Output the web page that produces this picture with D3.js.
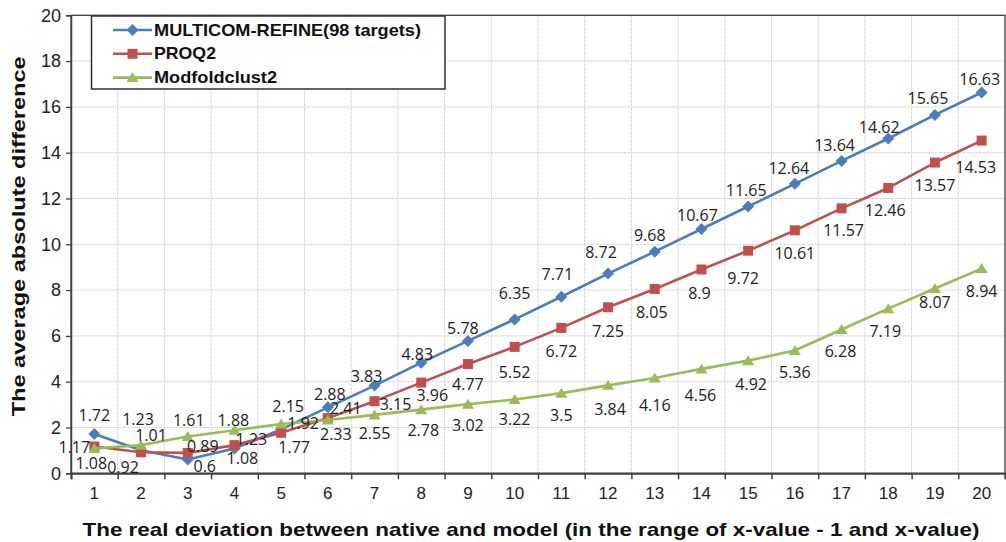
<!DOCTYPE html>
<html>
<head>
<meta charset="utf-8">
<script src="https://cdn.jsdelivr.net/npm/d3@7"></script>
<style>
  html, body { margin: 0; padding: 0; background: #fff; }
  svg { display: block; }
</style>
</head>
<body>
<svg id="chart" width="1006" height="542"></svg>
<script>
// ---- data ----
const categories = [1,2,3,4,5,6,7,8,9,10,11,12,13,14,15,16,17,18,19,20];
const seriesNames = ["MULTICOM-REFINE(98 targets)", "PROQ2", "Modfoldclust2"];
const multicom = [1.72,1.01,0.6,1.08,1.92,2.88,3.83,4.83,5.78,6.72,7.71,8.72,9.68,10.67,11.65,12.64,13.64,14.62,15.65,16.63];
const proq2    = [1.17,0.92,0.89,1.23,1.77,2.41,3.15,3.96,4.77,5.52,6.35,7.25,8.05,8.9,9.72,10.61,11.57,12.46,13.57,14.53];
const modfold  = [1.08,1.23,1.61,1.88,2.15,2.33,2.55,2.78,3.02,3.22,3.5,3.84,4.16,4.56,4.92,5.36,6.28,7.19,8.07,8.94];
// data label texts as printed in the chart
const multicomLabels = ["1.72","1.01","0.6","1.08","1.92","2.88","3.83","4.83","5.78","6.35","7.71","8.72","9.68","10.67","11.65","12.64","13.64","14.62","15.65","16.63"];
const proq2Labels    = ["1.17","0.92","0.89","1.23","1.77","2.41","3.15","3.96","4.77","5.52","6.72","7.25","8.05","8.9","9.72","10.61","11.57","12.46","13.57","14.53"];
const modfoldLabels  = ["1.08","1.23","1.61","1.88","2.15","2.33","2.55","2.78","3.02","3.22","3.5","3.84","4.16","4.56","4.92","5.36","6.28","7.19","8.07","8.94"];
const yTicks = [0,2,4,6,8,10,12,14,16,18,20];
const xTitle = "The real deviation between native and model (in the range of x-value - 1 and x-value)";
const yTitle = "The  average absolute difference";

// ---- layout / style ----
const colors = ["#4A7EBB", "#C0504D", "#9BBB59"];
const markers = ["diamond", "square", "triangle"];
// label offsets (px) relative to marker, per series
const labelOffsets = [
  [[0,-19],[10,-15],[17,6],[8,9],[22,-6],[2,-13],[-8,-10],[-4,-9],[-5,-13],[0,-26],[-4,-23],[-7,-22],[-5,-17],[-4,-14],[-2,-17],[-6,-16],[-7,-16],[-9,-12],[-7,-17],[-2,-13]],
  [[-20,0],[-18,15],[15,-7],[17,-6],[13,14],[18,-10],[21,3],[11,12],[0,20],[0,25],[0,23],[0,24],[-3,23],[-2,24],[-5,27],[0,23],[2,22],[-3,22],[0,22],[-6,26]],
  [[-3,14],[-3,-26],[1,-16],[-1,-10],[7,-18],[8,14],[0,18],[2,20],[0,21],[0,19],[0,22],[2,24],[0,27],[-1,26],[3,23],[0,21],[-1,22],[-3,22],[0,14],[0,22]]
];
const legendTextLengths = [267, 62, 123];

const series = [
  {name: seriesNames[0], values: multicom, labels: multicomLabels},
  {name: seriesNames[1], values: proq2, labels: proq2Labels},
  {name: seriesNames[2], values: modfold, labels: modfoldLabels}
];

const svg = d3.select("#chart");
const L = 71, R = 1005, T = 15.3, B = 473.3;

const x = d3.scaleBand().domain(categories).range([L, R]).padding(0);
const xb = d3.scaleLinear().domain([0, categories.length]).range([L, R]);
const y = d3.scaleLinear().domain([0, 20]).range([B, T]);
const cx = c => x(c) + x.bandwidth() / 2;

// gridlines
const grid = svg.append("g");
grid.selectAll("line.h").data(yTicks.slice(1)).join("line")
  .attr("x1", L).attr("x2", R).attr("y1", d => y(d)).attr("y2", d => y(d))
  .attr("stroke", "#d4d4d4").attr("stroke-width", 1).attr("stroke-dasharray", "3,1");
grid.selectAll("line.v").data(d3.range(1, categories.length)).join("line")
  .attr("x1", d => xb(d)).attr("x2", d => xb(d)).attr("y1", T).attr("y2", B)
  .attr("stroke", "#d4d4d4").attr("stroke-width", 1).attr("stroke-dasharray", "3,1");

// plot border
svg.append("rect").attr("x", L).attr("y", T).attr("width", R - L).attr("height", B - T)
  .attr("fill", "none").attr("stroke", "#404040").attr("stroke-width", 1.3);

// y axis
const yAxis = svg.append("g").attr("transform", `translate(${L},0)`)
  .call(d3.axisLeft(y).tickValues(yTicks).tickSize(5).tickPadding(5).tickFormat(d3.format("d")));
yAxis.select(".domain").attr("stroke", "#404040").attr("stroke-width", 1.5);
yAxis.selectAll(".tick line").attr("stroke", "#404040").attr("stroke-width", 1.3);
yAxis.selectAll(".tick text").attr("font-family", "Liberation Sans, Arial, sans-serif")
  .attr("font-size", 18).attr("fill", "#222");

// x axis tick marks at boundaries
const xAxisT = svg.append("g").attr("transform", `translate(0,${B})`)
  .call(d3.axisBottom(xb).tickValues(d3.range(0, categories.length + 1)).tickSize(6).tickFormat(""));
xAxisT.select(".domain").attr("stroke", "#404040").attr("stroke-width", 2);
xAxisT.selectAll(".tick line").attr("stroke", "#404040").attr("stroke-width", 1.5);
// x labels at centers
const xAxisL = svg.append("g").attr("transform", `translate(0,${B})`)
  .call(d3.axisBottom(x).tickSize(0).tickPadding(14));
xAxisL.select(".domain").remove();
xAxisL.selectAll(".tick text").attr("font-family", "Liberation Sans, Arial, sans-serif")
  .attr("font-size", 17).attr("fill", "#222");

// axis titles
svg.append("text").attr("x", (L + R) / 2 - 7).attr("y", 536)
  .attr("text-anchor", "middle").attr("font-family", "Liberation Sans, Arial, sans-serif")
  .attr("font-weight", "bold").attr("font-size", 19).attr("fill", "#111")
  .attr("textLength", 897).attr("lengthAdjust", "spacingAndGlyphs")
  .text(xTitle);
svg.append("text").attr("transform", `translate(25,${(T + B) / 2 - 8}) rotate(-90)`)
  .attr("text-anchor", "middle").attr("font-family", "Liberation Sans, Arial, sans-serif")
  .attr("font-weight", "bold").attr("font-size", 19).attr("fill", "#111")
  .attr("textLength", 360).attr("lengthAdjust", "spacingAndGlyphs")
  .text(yTitle);

// marker drawer
function markerPath(type) {
  if (type === "diamond") return "M0,-6L6,0L0,6L-6,0Z";
  if (type === "square") return "M-5,-5L5,-5L5,5L-5,5Z";
  return "M0,-5.5L6,4.5L-6,4.5Z";
}

const line = d3.line().x((d, i) => cx(categories[i])).y(d => y(d));

series.forEach((s, si) => {
  const g = svg.append("g");
  g.append("path").datum(s.values).attr("d", line)
    .attr("fill", "none").attr("stroke", colors[si]).attr("stroke-width", 2.6)
    .attr("stroke-linejoin", "round");
  g.selectAll("path.m").data(s.values).join("path").attr("class", "m")
    .attr("transform", (d, i) => `translate(${cx(categories[i])},${y(d)})`)
    .attr("d", markerPath(markers[si])).attr("fill", colors[si]);
});

// data labels (drawn after all lines)
series.forEach((s, si) => {
  svg.append("g").selectAll("text").data(s.values).join("text")
    .attr("x", (d, i) => cx(categories[i]) + labelOffsets[si][i][0])
    .attr("y", (d, i) => y(d) + labelOffsets[si][i][1])
    .attr("text-anchor", "middle").attr("dominant-baseline", "central")
    .attr("font-family", "Open Sans, sans-serif").attr("font-size", 16).attr("fill", "#222")
    .text((d, i) => s.labels[i]);
});

// legend
const lg = svg.append("g");
lg.append("rect").attr("x", 91.5).attr("y", 16).attr("width", 353.5).attr("height", 73)
  .attr("fill", "#fff").attr("stroke", "#303030").attr("stroke-width", 1.5);
series.forEach((s, si) => {
  const ly = 30 + si * 23.8;
  lg.append("line").attr("x1", 113).attr("x2", 152).attr("y1", ly).attr("y2", ly)
    .attr("stroke", colors[si]).attr("stroke-width", 2.6);
  lg.append("path").attr("transform", `translate(132.5,${ly})`).attr("d", markerPath(markers[si]))
    .attr("fill", colors[si]);
  lg.append("text").attr("x", 154).attr("y", ly).attr("dominant-baseline", "central")
    .attr("font-family", "Liberation Sans, Arial, sans-serif").attr("font-weight", "bold")
    .attr("font-size", 17).attr("fill", "#111")
    .attr("textLength", legendTextLengths[si]).attr("lengthAdjust", "spacingAndGlyphs")
    .text(s.name);
});
</script>
</body>
</html>
